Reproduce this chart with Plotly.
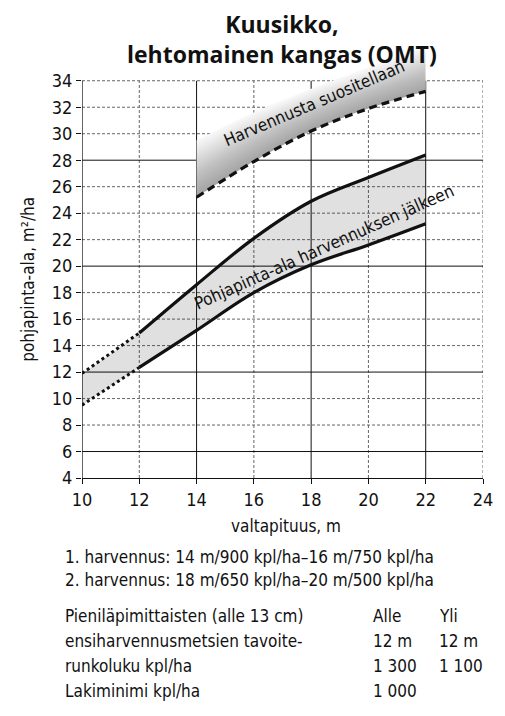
import plotly.graph_objects as go

# --- data ---
# dashed line: lower limit of "harvennusta suositellaan"
thin_x = [14, 16, 18, 20, 22]
thin_y = [25.2, 27.9, 30.2, 31.9, 33.2]
# upper edge of the grey gradient band
thin_top = [29.5, 31.6, 33.4, 35.0, 36.6]

# basal area after thinning, upper and lower curve
after_x = [10, 12, 14, 16, 18, 20, 22]
after_hi = [11.9, 14.95, 18.6, 22.1, 24.9, 26.7, 28.4]
after_lo = [9.5, 12.35, 15.15, 18.0, 20.1, 21.6, 23.2]

x_ticks = [10, 12, 14, 16, 18, 20, 22, 24]
y_ticks = [4, 6, 8, 10, 12, 14, 16, 18, 20, 22, 24, 26, 28, 30, 32, 34]
solid_x_grid = [14, 18, 22]
solid_y_grid = [6, 12, 20, 28]

title_lines = ["Kuusikko,", "lehtomainen kangas (OMT)"]
notes = ["1. harvennus: 14 m/900 kpl/ha–16 m/750 kpl/ha",
         "2. harvennus: 18 m/650 kpl/ha–20 m/500 kpl/ha"]
table_rows = [
    ["Pieniläpimittaisten (alle 13 cm)", "Alle", "Yli"],
    ["ensiharvennusmetsien tavoite-", "12 m", "12 m"],
    ["runkoluku kpl/ha", "1 300", "1 100"],
    ["Lakiminimi kpl/ha", "1 000", ""],
]

FONT = "DejaVu Sans Condensed, Liberation Sans Narrow, Arial Narrow, sans-serif"
TITLE_FONT = "Open Sans, Lato, sans-serif"

# page body has an 8px margin, so the figure is drawn 8px smaller and offset
OFF = 8
W, H = 505 - OFF, 716 - OFF
PX0, PX1 = 82, 486       # x=10 .. x=24 in page pixels
PY0 = 478                # y=4 in page pixels
PY_UNIT = 13.23          # pixels per y unit
YMAX = 36.7
L = PX0 - OFF
R = W - (PX1 - OFF)
B = H - (PY0 - OFF)
T = H - B - round((YMAX - 4) * PY_UNIT)


def px(p):
    return (p - OFF - L) / (W - L - R)


def py(p):
    return (H - B - (p - OFF)) / (H - T - B)


fig = go.Figure()

# gradient band: opaque base plus stacked translucent layers (darker toward the line)
fig.add_trace(go.Scatter(x=thin_x, y=thin_y, mode="lines", line=dict(width=0, shape="spline"),
                         hoverinfo="skip", showlegend=False))
fig.add_trace(go.Scatter(x=thin_x, y=thin_top, mode="lines", line=dict(width=0, shape="spline"),
                         fill="tonexty", fillcolor="rgb(247,247,247)",
                         hoverinfo="skip", showlegend=False))
n_layers = 24
for k in range(1, n_layers):
    upper = [d + (t - d) * k / n_layers for d, t in zip(thin_y, thin_top)]
    fig.add_trace(go.Scatter(x=thin_x, y=thin_y, mode="lines", line=dict(width=0, shape="spline"),
                             hoverinfo="skip", showlegend=False))
    fig.add_trace(go.Scatter(x=thin_x, y=upper, mode="lines", line=dict(width=0, shape="spline"),
                             fill="tonexty", fillcolor="rgba(0,0,0,0.016)",
                             hoverinfo="skip", showlegend=False))

# light band after thinning (translucent, grid shows through)
fig.add_trace(go.Scatter(x=after_x, y=after_lo, mode="lines", line=dict(width=0, shape="spline"),
                         hoverinfo="skip", showlegend=False))
fig.add_trace(go.Scatter(x=after_x, y=after_hi, mode="lines", line=dict(width=0, shape="spline"),
                         fill="tonexty", fillcolor="rgba(0,0,0,0.12)",
                         hoverinfo="skip", showlegend=False))

# curves
for ys in (after_hi, after_lo):
    fig.add_trace(go.Scatter(x=after_x[:2], y=ys[:2], mode="lines",
                             line=dict(color="#111", width=3, dash="dot"), showlegend=False))
    fig.add_trace(go.Scatter(x=after_x[1:], y=ys[1:], mode="lines",
                             line=dict(color="#111", width=3.2, shape="spline"), showlegend=False))
fig.add_trace(go.Scatter(x=thin_x, y=thin_y, mode="lines",
                         line=dict(color="#111", width=3.2, dash="8px,5px", shape="spline"),
                         showlegend=False))

# grid
for xv in x_ticks[1:]:
    solid = xv in solid_x_grid
    fig.add_shape(type="line", x0=xv, x1=xv, y0=4, y1=34, layer="below",
                  line=dict(color="#111" if solid else "#666", width=1,
                            dash="solid" if solid else "3px,2px"))
for yv in y_ticks[1:]:
    solid = yv in solid_y_grid
    fig.add_shape(type="line", x0=10, x1=24, y0=yv, y1=yv, layer="below",
                  line=dict(color="#111" if solid else "#666", width=1,
                            dash="solid" if solid else "3px,2px"))
fig.add_shape(type="line", x0=10, x1=10, y0=4, y1=34, line=dict(color="#111", width=1.3))

ann = []
ann.append(dict(x=18.1, y=32.3, xref="x", yref="y", text="Harvennusta suositellaan",
                textangle=-23, font=dict(size=17)))
ann.append(dict(x=18.45, y=21.45, xref="x", yref="y", text="Pohjapinta-ala harvennuksen jälkeen",
                textangle=-24, font=dict(size=17)))
ann.append(dict(x=px(283), y=py(39), text="<br>".join("<b>%s</b>" % t for t in title_lines),
                font=dict(size=23, family=TITLE_FONT, color="#111")))
ann.append(dict(x=px(288), y=py(526), text="valtapituus, m", font=dict(size=17)))
ann.append(dict(x=px(28), y=19, xref="paper", yref="y", text="pohjapinta-ala, m²/ha",
                textangle=-90, font=dict(size=17)))
for i, line in enumerate(notes):
    ann.append(dict(x=px(63), y=py(557 + 23 * i), text=line, xanchor="left", font=dict(size=17)))
row_y = [616, 641, 666, 691]
col_x = [63, 373, 440]
for ry, row in zip(row_y, table_rows):
    for cx, cell in zip(col_x, row):
        if cell:
            ann.append(dict(x=px(cx), y=py(ry), text=cell, xanchor="left", font=dict(size=17)))
for a in ann:
    a.setdefault("xref", "paper")
    a.setdefault("yref", "paper")
    a.setdefault("showarrow", False)
    a.setdefault("yanchor", "middle")
    a.setdefault("xanchor", "center")
fig.update_layout(annotations=ann)

fig.update_layout(
    width=W, height=H,
    margin=dict(l=L, r=R, t=T, b=B, pad=0),
    paper_bgcolor="white", plot_bgcolor="white",
    font=dict(family=FONT, color="#111", size=17),
    showlegend=False,
)
fig.update_xaxes(range=[10, 24], tickvals=x_ticks, showgrid=False, zeroline=False,
                 showline=True, linecolor="#111", linewidth=1.3,
                 ticks="outside", ticklen=5, tickcolor="#111", tickfont=dict(size=18))
fig.update_yaxes(range=[4, YMAX], tickvals=y_ticks, showgrid=False, zeroline=False,
                 showline=False, ticks="outside", ticklen=5, tickcolor="#111",
                 tickfont=dict(size=18))

fig.write_html("out.html")
